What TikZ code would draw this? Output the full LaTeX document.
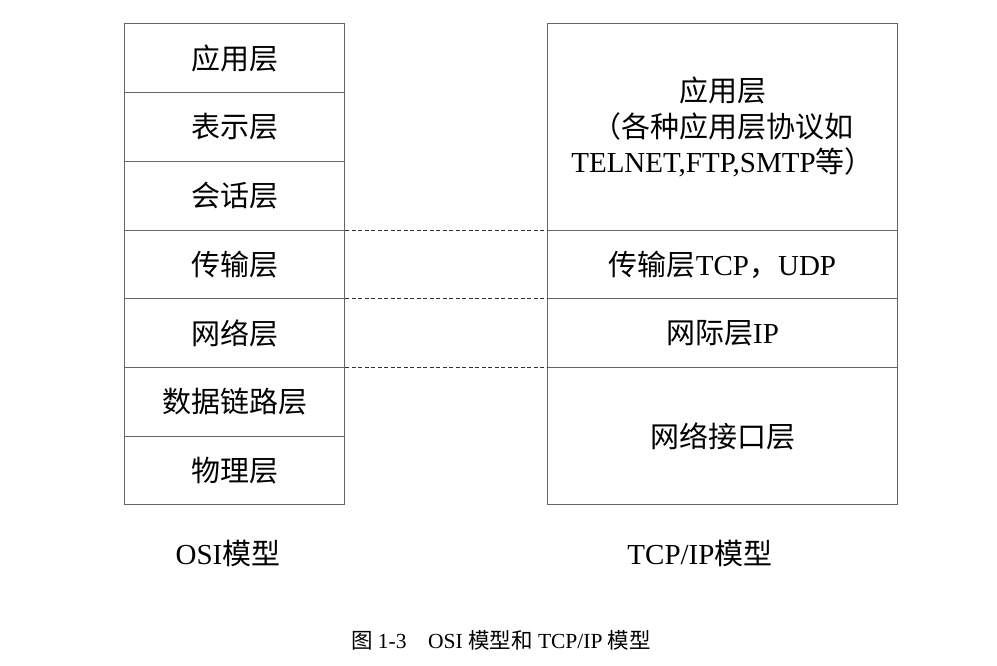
\documentclass[tikz,border=0pt]{standalone}
\usepackage{fontspec}
\setmainfont{Liberation Serif}
\newfontfamily\cjk{Noto Sans CJK SC}
\begin{document}
\begin{tikzpicture}[x=1pt,y=-1pt,
  lay/.style={draw=black!60, line width=1pt, inner sep=0pt, anchor=north west,
    align=center, font=\fontsize{29}{35.5}\selectfont},
  osibox/.style={lay, minimum width=220pt},
  tcpbox/.style={lay, minimum width=350pt},
  sep/.style={draw=black!80, line width=0.8pt, dash pattern=on 4pt off 2.5pt},
  lbl/.style={font=\fontsize{29}{32}\selectfont, inner sep=0pt},
  captext/.style={font=\fontsize{21.5}{24}\selectfont, inner sep=0pt}]
\useasboundingbox (0,0) rectangle (997,665);
% OSI model
\node[osibox, minimum height=69pt] (osi7) at (124,23) {\cjk 应用层};
\node[osibox, minimum height=69pt] (osi6) at (124,92) {\cjk 表示层};
\node[osibox, minimum height=69pt] (osi5) at (124,161) {\cjk 会话层};
\node[osibox, minimum height=68pt] (osi4) at (124,230) {\cjk 传输层};
\node[osibox, minimum height=69pt] (osi3) at (124,298) {\cjk 网络层};
\node[osibox, minimum height=69pt] (osi2) at (124,367) {\cjk 数据链路层};
\node[osibox, minimum height=68pt] (osi1) at (124,436) {\cjk 物理层};
% TCP/IP model
\node[tcpbox, minimum height=207pt] (tapp) at (547,23)
  {{\cjk 应用层}\\{\cjk （各种应用层协议如}\\TELNET,FTP,SMTP{\cjk 等）}};
\node[tcpbox, minimum height=68pt] (ttrans) at (547,230) {{\cjk 传输层}TCP{\cjk ，}UDP};
\node[tcpbox, minimum height=69pt] (tnet) at (547,298) {{\cjk 网际层}IP};
\node[tcpbox, minimum height=137pt] (tif) at (547,367) {\cjk 网络接口层};
% dashed correspondences
\draw[sep] (osi4.north east) -- (ttrans.north west);
\draw[sep] (osi3.north east) -- (tnet.north west);
\draw[sep] (osi2.north east) -- (tif.north west);
% labels
\node[lbl] (osilbl) at (228,553) {OSI{\cjk 模型}};
\node[lbl] (tcplbl) at (700,553) {TCP/IP{\cjk 模型}};
\node[captext] (caption) at (501,640) {{\cjk 图} 1-3\hspace{1em}OSI {\cjk 模型和} TCP/IP {\cjk 模型}};
\end{tikzpicture}
\end{document}
